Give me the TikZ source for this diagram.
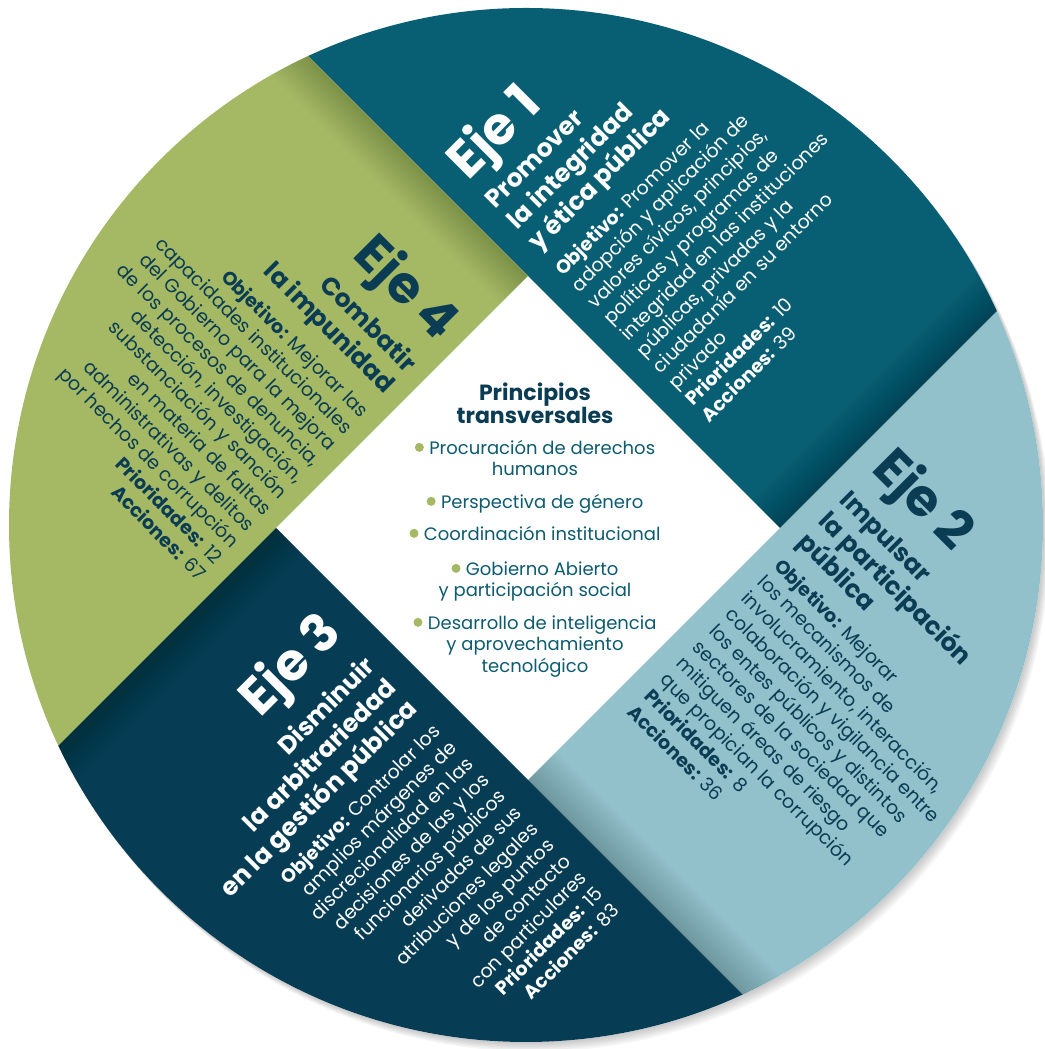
\documentclass[tikz,border=0pt]{standalone}
\usepackage{fontspec}
\setmainfont{Poppins}
\usetikzlibrary{calc}
\definecolor{ejeuno}{HTML}{085E72}
\definecolor{ejedos}{HTML}{92C0CB}
\definecolor{ejetres}{HTML}{063D55}
\definecolor{ejecuatro}{HTML}{A5B964}
\definecolor{tinta}{HTML}{0A3C54}
\definecolor{tintamedia}{HTML}{0D5B6F}
\newcommand{\pto}{\tikz[baseline]\fill[ejecuatro] (0,0.38em) circle (0.25em);\hspace{0.3em}}
\newcommand{\tope}{\rule{0pt}{1em}}
\tikzset{
  ejenum/.style={font=\fontsize{52}{56}\selectfont\bfseries,inner sep=0pt},
  ejetit/.style={font=\fontsize{25}{30}\selectfont\bfseries,inner sep=0pt},
  ejetxt/.style={font=\fontsize{19}{23}\selectfont,inner sep=0pt},
  princtit/.style={font=\fontsize{22}{23}\selectfont\bfseries,text=tinta,align=center,inner sep=0pt,anchor=north},
  princ/.style={font=\fontsize{18}{21.5}\selectfont,text=tintamedia,align=center,inner sep=0pt,anchor=north},
  pliegue/.style={black,opacity=0.016}
}
\begin{document}
\begin{tikzpicture}[x=1pt,y=1pt,line join=round]
\useasboundingbox (0,0) rectangle (1044,1049);
\fill[white] (0,0) rectangle (1044,1049);
\coordinate (C) at (526,524);
\coordinate (T) at (528,773);
\coordinate (R) at (780,521);
\coordinate (B) at (528,269);
\coordinate (L) at (276,521);
% sombra exterior
\foreach \k in {1,...,6}
  \fill[black,opacity=0.035] ($(C)+(1.2*\k,-1.6*\k)$) circle (517);
\fill[white] (C) circle (517);
\begin{scope}
\clip (C) circle (517);
\fill[ejeuno] (T) -- ++(-700,700) -- ($(R)+(700,700)$) -- (R) -- cycle;
\fill[ejedos] (R) -- ++(700,700) -- ($(B)+(700,-700)$) -- (B) -- cycle;
\fill[ejetres] (B) -- ++(700,-700) -- ($(L)+(-700,-700)$) -- (L) -- cycle;
\fill[ejecuatro] (L) -- ++(-700,-700) -- ($(T)+(-700,700)$) -- (T) -- cycle;
% pliegues
\foreach \p/\a in {T/135,R/45,B/-45,L/-135}{
  \begin{scope}[shift={(\p)},rotate=\a]
  \foreach \w in {3,6,...,39}
    \fill[pliegue] (0,0) rectangle (760,\w);
  \end{scope}
}
\end{scope}
% Eje 1
\begin{scope}[shift={(468,867)},rotate=45,transform shape,text=white]
\node[ejenum,anchor=base west] (eje1) at (0,0) {Eje 1};
\node[ejetit,anchor=north west,align=left] (tit1) at (0,-39+25) {\tope Promover\\la integridad\\y ética pública};
\node[ejetxt,anchor=north west,align=left] (txt1) at (0,-134+19) {\tope\textbf{Objetivo:} Promover la\\adopción y aplicación de\\valores cívicos, principios,\\políticas y programas de\\integridad en las instituciones\\públicas, privadas y la\\ciudadanía en su entorno\\privado\\\textbf{Prioridades:} 10\\\textbf{Acciones:} 39};
\end{scope}
% Eje 2
\begin{scope}[shift={(870,579)},rotate=-45,transform shape,text=tinta]
\node[ejenum,anchor=base west] (eje2) at (0,0) {Eje 2};
\node[ejetit,anchor=north west,align=left] (tit2) at (0,-44+25) {\tope Impulsar\\la participación\\pública};
\node[ejetxt,anchor=north west,align=left] (txt2) at (0,-137+19) {\tope\textbf{Objetivo:} Mejorar\\los mecanismos de\\involucramiento, interacción,\\colaboración y vigilancia entre\\los entes públicos y distintos\\sectores de la sociedad que\\mitiguen áreas de riesgo\\que propician la corrupción\\\textbf{Prioridades:} 8\\\textbf{Acciones:} 36};
\end{scope}
% Eje 3
\begin{scope}[shift={(344,414)},rotate=45,transform shape,text=white]
\node[ejenum,anchor=base east] (eje3) at (0,0) {Eje 3};
\node[ejetit,anchor=north east,align=right] (tit3) at (0,-46+25) {\tope Disminuir\\la arbitrariedad\\en la gestión pública};
\node[ejetxt,anchor=north east,align=right] (txt3) at (0,-138+19) {\tope\textbf{Objetivo:} Controlar los\\amplios márgenes de\\discrecionalidad en las\\decisiones de las y los\\funcionarios públicos\\derivadas de sus\\atribuciones legales\\y de los puntos\\de contacto\\con particulares\\\textbf{Prioridades:} 15\\\textbf{Acciones:} 83};
\end{scope}
% Eje 4
\begin{scope}[shift={(437.5,706.5)},rotate=-45,transform shape,text=tinta]
\node[ejenum,anchor=base east] (eje4) at (0,0) {Eje 4};
\node[ejetit,anchor=north east,align=right] (tit4) at (0,-44+25) {\tope Combatir\\la impunidad};
\node[ejetxt,anchor=north east,align=right] (txt4) at (0,-108+19) {\tope\textbf{Objetivo:} Mejorar las\\capacidades institucionales\\del Gobierno para la mejora\\de los procesos de denuncia,\\detección, investigación,\\substanciación y sanción\\en materia de faltas\\administrativas y delitos\\por hechos de corrupción\\\textbf{Prioridades:} 12\\\textbf{Acciones:} 67};
\end{scope}
% Principios transversales
\node[princtit] (ptit) at (535,649+22) {\tope Principios\\transversales};
\node[princ] (p1) at (535,595+18) {\tope\pto Procuración de derechos\\humanos};
\node[princ] (p2) at (535,541+18) {\tope\pto Perspectiva de género};
\node[princ] (p3) at (535,509+18) {\tope\pto Coordinación institucional};
\node[princ] (p4) at (535,474+18) {\tope\pto Gobierno Abierto\\y participación social};
\node[princ] (p5) at (535,420+18) {\tope\pto Desarrollo de inteligencia\\y aprovechamiento\\tecnológico};
\end{tikzpicture}
\end{document}
